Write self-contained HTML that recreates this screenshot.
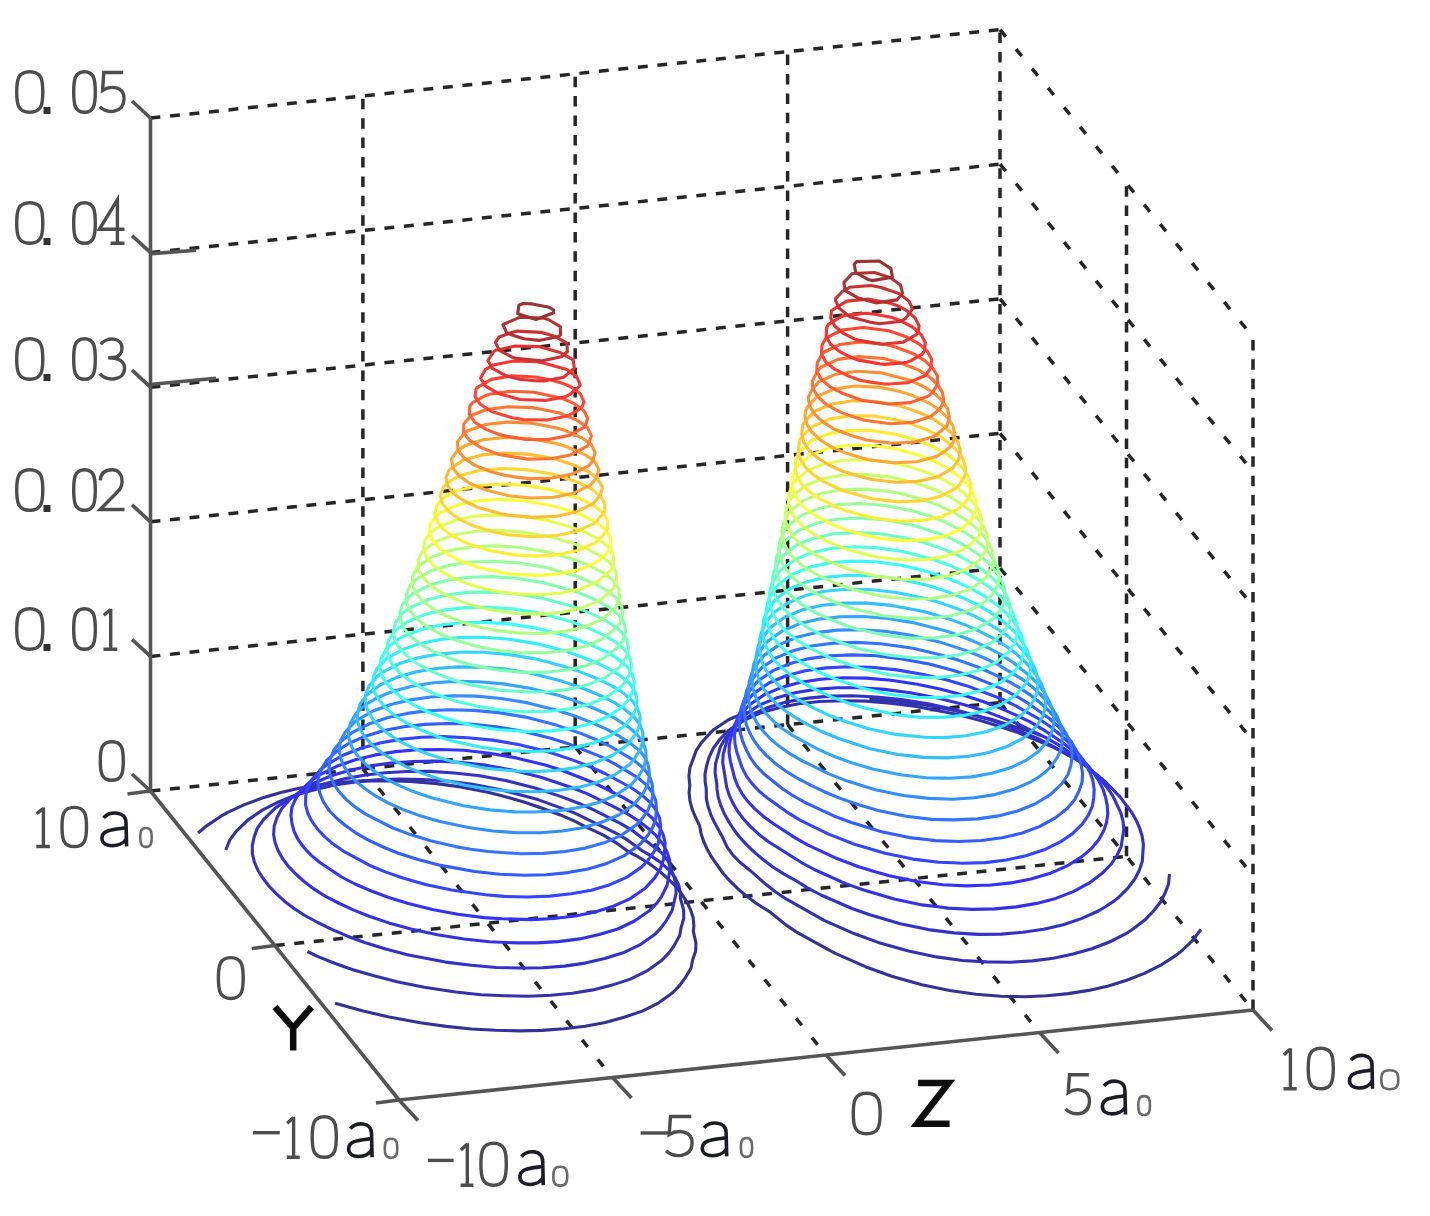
<!DOCTYPE html>
<html><head><meta charset="utf-8"><style>
html,body{margin:0;padding:0;background:#fff;}
body{width:1430px;height:1216px;overflow:hidden;font-family:"Liberation Sans",sans-serif;}
svg{display:block;}
.d{stroke:#262626;stroke-width:3.5;fill:none;}
.a{stroke:#555;stroke-width:3.6;fill:none;stroke-linecap:butt;}
.g{stroke:#4d4d4d;stroke-width:3.4;fill:none;}
.k{stroke:#1c1c28;stroke-width:3.6;fill:none;}
.s{stroke:#6a6a6a;stroke-width:2.6;fill:none;}
.b{stroke:#111;stroke-width:6.5;fill:none;}
.dt{fill:#333;}
.r{fill:none;stroke-width:3.1;stroke-linejoin:round;}
</style></head><body>
<svg width="1430" height="1216" viewBox="0 0 1430 1216">
<defs><filter id="bl" x="0" y="0" width="1430" height="1216" filterUnits="userSpaceOnUse"><feGaussianBlur stdDeviation="0.55"/></filter></defs>
<g filter="url(#bl)">
<g id="grid">
<line class="d" x1="150.5" y1="791" x2="1000" y2="702.6" stroke-dasharray="9.9 9.7"/>
<line class="d" x1="150.5" y1="656.4" x2="1000" y2="568" stroke-dasharray="9.9 9.7"/>
<line class="d" x1="150.5" y1="521.8" x2="1000" y2="433.4" stroke-dasharray="9.9 9.7"/>
<line class="d" x1="150.5" y1="387.2" x2="1000" y2="298.8" stroke-dasharray="9.9 9.7"/>
<line class="d" x1="150.5" y1="252.6" x2="1000" y2="164.2" stroke-dasharray="9.9 9.7"/>
<line class="d" x1="150.5" y1="118" x2="1000" y2="29.6" stroke-dasharray="9.9 9.7"/>
<line class="d" x1="1000" y1="702.6" x2="1253" y2="1010" stroke-dasharray="9.1 16.1"/>
<line class="d" x1="1000" y1="568" x2="1253" y2="875.4" stroke-dasharray="9.1 16.1"/>
<line class="d" x1="1000" y1="433.4" x2="1253" y2="740.8" stroke-dasharray="9.1 16.1"/>
<line class="d" x1="1000" y1="298.8" x2="1253" y2="606.2" stroke-dasharray="9.1 16.1"/>
<line class="d" x1="1000" y1="164.2" x2="1253" y2="471.6" stroke-dasharray="9.1 16.1"/>
<line class="d" x1="1000" y1="29.6" x2="1253" y2="337" stroke-dasharray="9.1 16.1"/>
<line class="d" x1="362.9" y1="768.9" x2="362.9" y2="95.9" stroke-dasharray="10.5 8.9"/>
<line class="d" x1="575.2" y1="746.8" x2="575.2" y2="73.8" stroke-dasharray="10.5 8.9"/>
<line class="d" x1="787.6" y1="724.7" x2="787.6" y2="51.7" stroke-dasharray="10.5 8.9"/>
<line class="d" x1="1000" y1="702.6" x2="1000" y2="29.6" stroke-dasharray="10.5 8.9"/>
<line class="d" x1="1126.5" y1="856.3" x2="1126.5" y2="183.3" stroke-dasharray="10.5 8.9"/>
<line class="d" x1="1253" y1="1010" x2="1253" y2="337" stroke-dasharray="10.5 8.9"/>
<line class="d" x1="362.9" y1="768.9" x2="612.5" y2="1077.5" stroke-dasharray="9.0 15.9"/>
<line class="d" x1="575.2" y1="746.8" x2="826" y2="1055" stroke-dasharray="9.0 16.0"/>
<line class="d" x1="787.6" y1="724.7" x2="1039.5" y2="1032.5" stroke-dasharray="9.0 16.0"/>
<line class="d" x1="274.8" y1="945.5" x2="1126.5" y2="856.3" stroke-dasharray="9.9 9.7"/>
<line class="a" x1="150.5" y1="791" x2="150.5" y2="118"/>
<line class="a" x1="150.5" y1="791" x2="399" y2="1100"/>
<line class="a" x1="399" y1="1100" x2="1253" y2="1010"/>
<line class="a" x1="150.5" y1="791" x2="132" y2="774"/>
<line class="a" x1="150.5" y1="656.4" x2="132" y2="639.4"/>
<line class="a" x1="150.5" y1="521.8" x2="132" y2="504.8"/>
<line class="a" x1="150.5" y1="387.2" x2="132" y2="370.2"/>
<line class="a" x1="150.5" y1="252.6" x2="132" y2="235.6"/>
<line class="a" x1="150.5" y1="118" x2="132" y2="101"/>
<line class="a" x1="150.5" y1="791" x2="127.5" y2="794"/>
<line class="a" x1="274.8" y1="945.5" x2="251.8" y2="948.5"/>
<line class="a" x1="399" y1="1100" x2="376" y2="1103"/>
<line class="a" x1="399" y1="1100" x2="418" y2="1120.5"/>
<line class="a" x1="612.5" y1="1077.5" x2="631.5" y2="1098"/>
<line class="a" x1="826" y1="1055" x2="845" y2="1075.5"/>
<line class="a" x1="1039.5" y1="1032.5" x2="1058.5" y2="1053"/>
<line class="a" x1="1253" y1="1010" x2="1272" y2="1030.5"/>
<line class="a" x1="152" y1="253.6" x2="196" y2="250.2"/>
<line class="a" x1="152" y1="384.2" x2="216" y2="378.2"/>
</g>
<g id="rings">
<path class="r" stroke="#333399" d="M335.1 1003.2 363.2 1011.0 387.9 1016.8 420.2 1022.8 446.3 1026.4 471.5 1029.0 495.7 1030.3 519.4 1030.9 542.1 1030.4 564.0 1028.8 585.1 1026.3 605.2 1022.6 624.1 1017.3 642.3 1011.1 658.7 1002.8 668.5 995.7 673.2 992.2 679.1 986.2 685.0 978.2 691.0 968.2 692.8 959.3 695.7 951.0 695.9 942.6 693.3 931.4 693.9 926.1 693.2 917.8 690.6 909.7 686.7 901.8 681.7 893.9 675.5 886.2 667.9 878.6 659.4 871.2 649.5 863.8 637.9 856.7 628.6 851.8 615.4 842.3 603.5 835.2 585.2 826.7 575.2 821.4 559.7 814.7 542.2 808.2 523.2 801.8 501.7 795.7 487.9 792.2 460.6 786.9 434.7 783.4 410.1 781.5 386.4 780.6 363.6 780.9 341.7 782.3 320.6 784.7 300.3 788.1 280.9 792.6 262.2 798.0 244.5 804.6 227.7 812.3 220.2 816.7 205.5 826.6 198.2 833.0"/>
<path class="r" stroke="#3333b1" d="M307.4 951.5 318.0 956.6 334.6 963.2 352.9 969.7 374.0 975.8 397.1 981.8 424.3 987.3 455.6 992.0 480.9 994.7 505.0 995.8 528.4 996.2 550.9 995.3 572.3 993.2 592.8 989.9 612.0 985.1 630.4 979.1 646.9 970.9 661.6 960.5 668.7 953.2 673.5 946.7 679.7 935.4 681.1 927.6 683.8 918.2 683.6 909.9 680.4 898.3 680.5 893.5 678.8 885.3 674.9 877.3 668.7 869.6 660.2 862.1 649.5 854.9 641.5 850.3 628.0 840.4 616.4 833.3 573.7 812.6 537.9 799.6 499.7 789.4 472.5 784.3 446.8 781.0 422.5 779.5 399.1 779.1 376.7 779.9 355.3 781.9 334.8 785.0 315.4 789.5 296.5 794.7 279.1 801.7 262.7 809.9 247.8 820.1 236.4 831.1 229.7 840.2 225.8 850.0"/>
<path class="r" stroke="#3333c9" d="M522.5 968.0 542.6 967.8 564.4 966.1 585.1 963.1 604.7 958.6 623.1 952.8 639.8 944.9 654.6 934.6 660.6 928.4 666.4 920.6 672.1 910.5 676.1 893.3 675.9 885.0 674.0 876.8 668.0 860.7 661.9 853.0 633.0 830.9 621.3 823.8 593.7 809.9 578.5 803.2 561.2 796.6 535.9 788.3 506.8 780.8 479.7 775.8 454.3 773.0 430.0 771.4 407.1 771.5 385.0 772.8 364.0 775.3 343.8 778.9 324.7 783.8 306.9 790.2 290.2 798.1 275.2 808.1 263.7 819.3 257.3 828.4 254.1 837.1 252.3 845.6 252.4 854.0 254.4 862.2 257.9 870.2 262.8 878.0 268.7 885.8 275.9 893.4 284.1 900.9 293.7 908.3 304.8 915.5 317.8 922.5 331.8 929.4 347.5 936.2 365.4 942.7 385.7 948.9 408.5 954.9 445.5 962.1 471.3 965.3 496.2 967.5 522.5 968.0Z"/>
<path class="r" stroke="#3333e1" d="M517.3 942.9 536.6 942.9 558.6 941.6 579.6 938.9 599.2 934.5 617.8 929.0 634.5 921.0 649.3 910.8 656.8 903.1 661.3 897.0 667.1 885.3 670.3 868.2 669.6 859.9 667.0 851.9 662.8 843.9 656.6 836.2 648.6 828.7 639.0 821.3 627.9 814.1 614.6 807.2 586.4 793.4 569.3 786.8 541.0 777.2 512.0 770.0 485.0 765.1 459.7 762.3 435.6 761.1 412.9 761.5 391.1 763.0 370.4 765.9 350.6 769.9 332.0 775.5 323.5 779.0 314.8 782.7 302.8 789.5 290.0 799.2 281.8 808.5 277.0 817.4 274.2 826.0 273.6 834.5 275.1 842.7 278.2 850.7 282.6 858.6 288.4 866.4 295.7 874.0 304.1 881.5 313.8 888.9 325.1 896.1 338.5 903.0 353.2 909.9 369.8 916.5 388.8 922.9 410.9 928.9 437.4 934.7 464.0 939.0 489.4 941.8 517.3 942.9Z"/>
<path class="r" stroke="#3333f9" d="M502.2 918.8 531.7 919.6 554.0 918.5 575.1 916.0 595.0 912.0 613.4 906.2 630.4 898.6 645.2 888.3 654.9 877.6 660.5 868.7 663.3 860.0 664.6 851.5 665.1 843.1 663.3 834.9 659.4 827.0 653.3 819.2 645.1 811.7 634.9 804.4 622.8 797.3 595.5 783.5 561.7 770.3 545.2 765.1 516.3 757.9 489.4 753.2 464.0 750.3 440.3 749.5 417.4 749.7 395.9 751.6 375.5 754.9 356.2 759.5 338.1 765.7 321.6 773.8 313.0 779.5 307.1 784.4 302.3 789.0 296.0 798.0 292.0 806.8 290.9 815.3 292.0 823.6 294.2 831.7 298.2 839.7 303.8 847.5 311.0 855.1 319.9 862.5 341.6 877.0 355.0 884.0 370.8 890.7 387.9 897.3 408.3 903.5 432.3 909.4 457.9 914.2 483.8 917.6 502.2 918.8Z"/>
<path class="r" stroke="#3345ff" d="M485.6 894.8 503.9 896.4 527.5 897.0 549.9 896.1 571.1 893.8 591.3 890.2 610.0 884.7 627.0 877.1 641.8 866.9 647.3 861.1 653.5 852.7 658.3 843.2 660.7 826.2 659.6 818.0 656.1 810.0 650.1 802.3 641.6 794.8 630.9 787.5 605.0 773.5 590.1 766.7 573.1 760.1 548.7 752.0 519.6 744.7 492.8 740.1 467.8 737.7 443.9 736.6 421.4 737.3 400.0 739.4 379.9 743.0 361.0 748.2 343.5 755.0 327.7 764.1 320.5 769.8 312.3 779.0 307.5 787.9 305.7 796.4 305.6 804.8 307.7 813.0 311.6 820.9 317.2 828.7 324.3 836.4 332.9 843.8 343.3 851.1 369.3 865.2 385.3 871.9 403.7 878.3 425.5 884.4 451.5 890.0 485.6 894.8Z"/>
<path class="r" stroke="#335dff" d="M512.4 874.7 523.8 875.2 546.5 874.7 568.0 872.6 588.1 868.9 606.8 863.4 623.9 855.9 639.7 844.6 647.9 835.3 653.2 826.4 655.9 817.8 656.3 809.4 655.9 801.0 652.7 793.0 646.8 785.3 638.1 777.8 614.3 763.6 600.8 756.6 567.3 743.4 551.7 738.5 522.9 731.3 496.0 726.7 470.8 724.0 447.3 723.5 425.0 724.4 403.8 726.8 383.9 730.6 365.3 736.2 348.3 743.7 337.4 750.7 327.0 760.2 321.4 769.1 318.2 777.8 318.1 786.2 320.2 794.4 323.7 802.4 329.0 810.2 336.2 817.8 345.1 825.2 355.3 832.6 367.4 839.7 381.9 846.5 398.3 853.2 418.0 859.5 440.8 865.4 474.6 871.5 499.9 874.2 512.4 874.7Z"/>
<path class="r" stroke="#3375ff" d="M488.2 851.5 520.5 853.8 543.3 853.4 564.9 851.5 585.3 848.1 604.2 842.8 621.2 835.3 636.1 825.1 642.1 818.6 647.6 810.8 651.9 800.9 652.8 792.4 652.2 784.1 649.4 776.0 643.5 768.3 634.6 760.9 610.9 746.6 596.5 739.8 580.0 733.1 554.3 724.4 525.4 717.1 498.6 712.6 473.8 710.4 450.1 709.7 427.9 710.7 407.0 713.4 387.4 717.7 369.3 723.8 352.9 732.1 340.9 741.4 333.5 750.5 330.2 759.2 329.0 767.7 330.4 776.0 333.8 784.0 339.1 791.8 346.1 799.4 354.9 806.9 365.6 814.1 392.9 828.0 410.4 834.6 430.5 840.8 455.4 846.6 470.7 849.3 488.2 851.5Z"/>
<path class="r" stroke="#338dff" d="M508.3 832.1 517.5 832.7 540.6 832.7 562.4 831.0 582.8 827.7 601.5 822.2 618.8 815.0 633.6 804.8 643.5 792.8 647.9 784.0 649.5 775.4 648.7 767.2 646.1 759.1 640.2 751.3 631.1 743.9 620.2 736.7 607.5 729.7 592.3 722.9 575.5 716.3 556.9 710.2 527.9 702.9 501.3 698.5 476.2 696.1 452.9 695.8 430.8 697.0 410.1 699.9 390.7 704.5 373.0 711.0 357.2 720.1 353.9 722.7 345.3 732.0 340.5 740.8 339.2 749.3 340.5 757.6 343.5 765.6 348.6 773.5 355.6 781.1 364.7 788.5 375.4 795.8 387.9 802.9 403.3 809.6 421.0 816.1 438.8 821.2 469.6 827.8 493.0 831.0 508.3 832.1Z"/>
<path class="r" stroke="#33a5ff" d="M534.6 812.0 559.8 810.6 580.3 807.3 599.4 802.3 616.4 794.8 631.3 784.6 638.8 776.0 643.9 767.1 646.2 758.5 645.8 750.1 642.8 742.1 637.0 734.3 628.3 726.9 617.3 719.7 604.1 712.7 588.4 706.0 571.0 699.4 559.1 695.6 530.1 688.3 503.4 683.9 478.6 681.7 455.3 681.4 433.4 682.8 412.9 686.0 393.8 691.0 387.2 693.5 376.5 698.1 366.7 704.0 361.5 708.1 356.0 713.5 350.8 722.4 348.4 731.1 349.1 739.4 352.1 747.4 357.2 755.3 364.2 762.9 373.0 770.4 383.9 777.6 397.2 784.6 412.6 791.3 431.4 797.7 463.4 805.7 489.9 809.9 514.7 811.9 534.6 812.0Z"/>
<path class="r" stroke="#33bdff" d="M498.5 790.1 512.0 791.3 535.5 791.8 557.6 790.5 578.2 787.4 597.3 782.4 614.5 775.0 629.3 764.8 634.2 759.1 640.2 749.7 642.9 741.5 642.9 733.1 640.1 725.0 634.3 717.3 625.6 709.8 614.4 702.6 600.7 695.7 584.7 689.0 561.2 680.9 532.1 673.5 505.5 669.1 480.8 667.1 457.6 666.9 435.8 668.5 415.5 672.0 396.8 677.3 379.3 685.4 366.7 695.1 359.9 704.2 357.5 712.8 357.5 721.2 360.1 729.3 364.9 737.1 371.9 744.8 381.0 752.2 392.3 759.4 405.5 766.4 421.5 773.1 441.0 779.4 465.2 785.2 487.0 788.9 498.5 790.1Z"/>
<path class="r" stroke="#33d5ff" d="M515.1 771.0 533.2 771.6 555.5 770.5 576.2 767.6 595.2 762.5 612.5 755.3 627.2 745.0 636.2 733.2 637.9 729.6 639.7 724.5 640.1 716.1 637.5 708.0 631.8 700.2 623.0 692.8 611.5 685.6 597.2 678.8 581.0 672.1 561.9 665.7 534.1 658.6 507.6 654.4 482.8 652.2 459.8 652.3 438.2 654.1 418.0 657.7 399.6 663.5 383.3 671.8 376.8 676.7 369.0 685.9 365.5 694.6 365.4 703.0 368.0 711.1 372.7 719.0 379.6 726.6 388.7 734.1 399.7 741.3 413.4 748.2 430.1 754.8 450.3 761.1 484.1 768.1 515.1 771.0Z"/>
<path class="r" stroke="#33edff" d="M539.4 751.2 553.4 750.6 574.1 747.7 593.4 743.0 610.6 735.6 625.3 725.2 632.3 716.3 636.4 707.5 637.2 699.1 634.8 690.9 629.2 683.2 620.3 675.7 608.5 668.6 598.6 663.8 577.3 655.2 565.1 651.0 536.0 643.6 509.4 639.3 484.7 637.3 461.7 637.4 440.3 639.4 420.4 643.4 402.4 649.6 386.6 658.6 377.6 667.7 375.0 672.9 373.5 676.5 372.7 684.9 374.9 693.1 379.6 700.9 386.4 708.6 395.4 716.0 406.9 723.2 421.2 730.1 438.0 736.7 453.3 741.2 481.4 747.3 507.1 750.6 531.0 751.5 539.4 751.2Z"/>
<path class="r" stroke="#39fff9" d="M499.2 729.7 528.9 731.7 551.4 730.9 572.4 728.2 591.7 723.5 608.9 716.2 623.5 705.7 628.5 699.4 633.1 690.5 634.3 682.0 632.2 673.9 626.6 666.1 617.6 658.7 605.6 651.6 590.9 644.8 573.6 638.2 566.9 635.9 537.7 628.4 511.1 624.1 486.7 622.4 463.7 622.5 442.4 624.7 423.7 628.8 405.0 635.5 397.4 639.9 390.0 645.5 386.1 649.5 381.1 658.4 379.9 666.8 381.7 675.0 386.1 682.9 392.9 690.6 402.2 698.0 414.0 705.1 428.2 712.0 446.0 718.5 468.3 724.6 478.7 726.7 499.2 729.7Z"/>
<path class="r" stroke="#51ffe1" d="M512.5 711.0 526.9 711.8 549.6 711.3 570.7 708.7 589.9 704.0 607.2 696.8 621.7 686.2 624.7 682.5 629.8 673.6 631.5 665.0 629.6 656.9 624.0 649.1 615.0 641.7 603.2 634.8 587.7 627.8 570.0 621.3 539.4 613.1 512.9 608.9 488.3 607.1 465.6 607.6 444.5 609.9 425.0 614.4 407.8 621.5 394.5 631.3 388.4 640.3 386.8 648.8 388.4 657.0 392.6 664.9 399.4 672.6 408.9 680.0 420.4 687.1 435.1 694.0 453.5 700.4 477.2 706.3 502.5 710.2 512.5 711.0Z"/>
<path class="r" stroke="#69ffc9" d="M528.1 692.0 547.8 691.7 568.9 689.3 588.3 684.6 605.6 677.4 620.0 666.7 626.5 656.6 628.6 648.0 626.9 639.8 621.5 632.0 612.3 624.6 599.9 617.6 584.6 610.8 570.5 605.7 541.1 597.9 514.6 593.7 490.0 591.9 467.4 592.4 446.4 595.0 427.3 599.8 410.4 607.5 402.9 613.1 395.6 622.2 393.3 630.8 394.6 639.0 398.8 647.0 405.5 654.6 414.7 662.0 426.7 669.2 442.8 676.2 461.0 682.3 473.3 685.4 500.3 690.2 528.1 692.0Z"/>
<path class="r" stroke="#81ffb1" d="M495.5 669.7 523.0 672.4 546.0 672.2 567.2 669.9 586.7 665.4 603.9 658.1 618.2 647.2 623.2 639.6 625.7 631.0 624.3 622.8 618.9 615.0 609.7 607.6 597.0 600.5 581.4 593.8 572.2 590.4 542.6 582.5 516.1 578.2 491.7 576.6 469.1 577.2 448.3 580.0 429.5 585.3 413.1 593.5 411.3 594.9 402.8 604.1 399.8 612.8 400.6 621.1 404.5 629.0 411.2 636.7 420.6 644.1 432.9 651.2 448.5 657.9 468.4 664.2 495.5 669.7Z"/>
<path class="r" stroke="#99ff99" d="M506.0 651.3 521.1 652.7 544.3 652.8 565.7 650.7 585.2 646.2 602.4 638.9 616.5 627.8 619.9 622.6 622.7 614.0 621.6 605.7 616.3 597.9 607.0 590.5 594.1 583.5 573.9 575.2 544.2 567.1 517.6 562.8 493.3 561.3 470.8 562.0 450.2 565.1 431.6 570.6 420.2 576.6 415.9 579.7 409.8 586.1 406.2 594.8 406.6 603.1 410.3 611.1 416.9 618.8 426.5 626.2 439.0 633.2 454.9 639.9 475.8 646.1 495.9 650.1 506.0 651.3Z"/>
<path class="r" stroke="#b1ff81" d="M516.7 632.9 542.7 633.5 564.1 631.4 583.7 627.0 600.9 619.7 607.3 615.0 614.8 608.4 616.6 605.6 619.7 597.0 618.8 588.7 613.6 580.9 604.3 573.5 591.3 566.5 575.6 560.0 545.7 551.6 519.1 547.3 494.8 545.8 472.5 546.8 452.1 550.0 433.8 556.0 429.4 558.3 418.8 566.0 416.8 568.0 412.3 576.8 412.5 585.2 416.0 593.2 422.6 600.9 432.1 608.2 444.7 615.3 464.9 623.1 483.3 628.0 493.7 630.1 516.7 632.9Z"/>
<path class="r" stroke="#c9ff69" d="M532.1 613.9 541.0 614.1 562.6 612.2 582.2 607.8 599.4 600.6 613.1 589.0 616.8 579.9 616.0 571.7 610.9 563.8 601.5 556.4 588.4 549.5 571.3 542.9 549.6 536.8 520.6 531.9 496.4 530.4 474.1 531.5 453.9 535.0 436.1 541.4 424.1 549.9 422.0 552.6 418.5 558.9 418.0 567.3 421.4 575.3 427.9 583.0 437.5 590.4 450.5 597.4 467.7 603.9 490.8 609.9 517.4 613.5 532.1 613.9Z"/>
<path class="r" stroke="#e1ff51" d="M499.2 591.7 515.6 593.9 539.4 594.7 561.1 593.0 580.7 588.7 597.9 581.4 609.3 571.8 611.3 569.3 613.8 562.9 613.2 554.6 608.2 546.8 598.8 539.4 585.6 532.4 567.6 525.9 548.7 520.7 522.1 516.3 497.9 514.9 475.8 516.1 455.8 519.9 438.4 527.0 431.5 531.8 425.4 539.5 424.6 540.9 423.6 549.4 426.7 557.4 433.2 565.1 442.9 572.5 456.2 579.4 474.0 585.9 489.2 589.8 499.2 591.7Z"/>
<path class="r" stroke="#f9ff39" d="M507.7 573.5 513.7 574.3 537.8 575.4 559.6 573.8 579.3 569.6 596.4 562.2 605.1 554.9 609.3 549.7 610.8 545.9 610.5 537.6 605.5 529.7 596.1 522.4 581.0 514.7 563.9 509.0 550.2 505.2 523.5 500.7 499.4 499.5 477.4 500.8 457.6 504.9 440.7 512.5 438.9 513.7 430.8 522.9 429.2 531.5 432.0 539.5 438.4 547.3 448.3 554.6 461.9 561.5 480.4 568.0 507.7 573.5Z"/>
<path class="r" stroke="#ffed33" d="M517.6 555.1 536.1 556.1 558.1 554.7 577.9 550.5 594.9 543.0 600.9 538.0 607.8 528.9 607.7 520.6 602.8 512.7 593.4 505.3 579.5 498.4 551.7 489.7 524.9 485.2 500.9 484.0 479.0 485.5 459.5 489.9 447.4 495.5 443.2 498.3 437.1 505.0 434.8 513.6 437.3 521.7 443.6 529.4 453.6 536.7 467.6 543.6 486.9 549.9 511.8 554.6 517.6 555.1Z"/>
<path class="r" stroke="#ffd533" d="M529.6 536.5 534.5 536.8 556.6 535.5 576.4 531.4 593.4 523.9 596.7 521.1 604.3 512.0 605.0 509.6 604.9 503.5 600.1 495.7 590.7 488.3 575.9 481.5 553.2 474.2 526.3 469.6 502.3 468.5 480.6 470.2 461.4 475.0 456.5 477.2 445.9 484.3 443.4 487.0 440.4 495.7 442.5 503.8 448.7 511.5 458.8 518.8 473.2 525.7 493.9 531.9 509.9 534.9 529.6 536.5Z"/>
<path class="r" stroke="#ffbd33" d="M501.0 513.8 507.9 515.1 532.9 517.4 555.2 516.4 575.0 512.3 592.5 504.2 600.4 495.0 602.1 488.8 602.1 486.5 597.4 478.6 588.0 471.3 572.4 464.5 554.7 458.8 527.8 454.1 503.8 453.0 482.3 454.9 467.6 458.7 463.4 460.1 450.0 469.0 448.8 470.6 446.0 477.7 447.7 485.9 453.8 493.7 464.1 501.0 478.9 507.8 501.0 513.8Z"/>
<path class="r" stroke="#ffa533" d="M508.5 495.7 531.2 498.0 553.6 497.2 573.5 493.2 590.2 485.3 596.5 478.1 598.9 469.5 594.7 461.6 584.4 454.3 568.8 447.6 556.4 443.6 529.3 438.6 505.3 437.5 483.0 439.8 465.5 445.4 457.3 450.9 452.4 457.7 451.5 459.8 452.9 468.1 458.9 475.8 469.3 483.1 485.0 489.8 508.5 495.7Z"/>
<path class="r" stroke="#ff8d33" d="M517.9 477.4 529.5 478.6 552.1 478.0 572.1 474.1 588.5 465.9 592.5 461.2 595.2 452.6 591.3 444.6 580.9 437.3 565.3 430.6 558.1 428.3 530.7 423.1 506.9 422.1 485.7 424.5 467.7 430.7 464.6 432.8 457.5 441.9 458.1 450.2 464.1 457.9 474.7 465.2 491.1 471.8 503.6 475.1 517.9 477.4Z"/>
<path class="r" stroke="#ff7533" d="M527.3 459.1 550.6 458.8 570.6 454.9 586.8 446.4 588.6 444.3 591.4 435.6 587.6 427.7 577.4 420.4 559.7 413.0 535.2 408.1 532.2 407.6 508.4 406.7 487.5 409.3 473.3 414.5 470.1 416.4 463.8 423.9 463.6 432.3 469.4 440.1 480.3 447.3 497.2 453.9 501.3 454.9 527.3 459.1Z"/>
<path class="r" stroke="#ff5d33" d="M548.5 439.6 568.9 435.6 584.9 426.8 587.7 418.7 584.0 410.7 573.8 403.4 561.8 398.3 533.8 392.2 510.0 391.3 489.3 394.2 484.3 396.1 472.9 402.5 470.0 405.9 469.3 414.4 474.9 422.2 486.0 429.4 498.5 434.2 504.3 435.8 525.8 439.4 548.5 439.6Z"/>
<path class="r" stroke="#ff4533" d="M512.2 417.7 523.8 419.6 547.3 420.0 567.2 416.1 577.2 410.9 582.4 406.3 584.0 401.8 580.4 393.8 570.3 386.5 564.2 383.8 550.9 380.1 535.5 377.0 511.6 375.9 491.3 379.4 476.6 387.9 476.0 389.1 475.0 396.5 480.4 404.3 491.6 411.5 512.2 417.7Z"/>
<path class="r" stroke="#f93333" d="M520.0 399.5 545.5 400.5 565.5 396.7 570.1 394.3 579.9 385.9 580.2 384.9 576.8 376.8 566.8 369.5 545.1 363.4 537.3 361.8 513.5 361.0 493.5 364.9 485.2 369.7 480.8 377.7 480.7 378.5 485.9 386.4 498.2 393.4 520.0 399.5Z"/>
<path class="r" stroke="#e13333" d="M534.6 380.7 543.7 380.9 563.7 377.2 574.3 368.2 573.2 359.9 560.7 352.8 539.0 346.6 515.4 346.0 495.8 350.3 493.9 351.5 487.9 360.5 492.4 368.4 505.3 375.4 519.1 379.2 534.6 380.7Z"/>
<path class="r" stroke="#c93333" d="M512.5 357.3 516.3 358.4 541.5 360.9 561.3 356.8 567.4 351.5 566.9 343.2 554.5 336.2 541.5 332.4 517.3 331.1 512.4 332.2 499.1 337.0 495.4 342.4 499.4 350.3 512.5 357.3Z"/>
<path class="r" stroke="#b13333" d="M523.7 338.8 538.9 340.4 558.8 336.4 560.5 334.9 560.3 326.6 548.3 319.5 544.1 318.3 520.1 317.1 502.9 324.5 506.4 332.2 511.3 334.8 523.7 338.8Z"/>
<path class="r" stroke="#993333" d="M517.7 313.7 536.0 319.5 553.7 312.8 553.7 310.0 549.2 307.2 532.2 303.9 523.1 303.5 518.9 305.2 517.7 313.7Z"/>
<path class="r" stroke="#333399" d="M1041.5 735.7 1032.0 732.1 991.9 719.6 950.9 709.7 923.7 704.8 897.8 701.2 869.4 698.9M747.5 711.6 728.5 719.7 713.6 729.7 711.1 732.1 701.3 742.8 696.3 750.4 689.9 767.7 688.9 776.2 689.8 785.3 689.1 792.9 690.0 801.2 692.2 809.3 695.5 817.3 699.6 825.6 701.0 833.4 703.7 841.5 707.3 849.5 711.8 857.4 722.8 873.0 729.6 880.6 737.3 888.2 746.0 895.6 755.7 903.0 770.0 912.0 785.9 924.9 796.6 932.1 834.7 953.2 865.5 966.7 891.7 976.2 921.8 984.7 949.7 990.5 976.0 994.3 1000.7 996.2 1024.3 996.7 1046.7 995.8 1068.2 993.6 1088.7 990.4 1108.3 986.0 1126.7 980.2 1144.4 973.4 1160.8 965.2 1175.9 955.4 1182.7 950.0 1192.4 940.7 1200.9 929.5"/>
<path class="r" stroke="#3333b1" d="M1074.0 758.0 1051.1 746.2 1018.7 732.9 999.8 726.5 979.5 720.3 956.5 714.3 916.2 706.4 890.4 703.1 865.7 701.1 842.4 700.7 819.9 701.5 798.7 703.7 778.9 707.7 760.1 713.0 743.4 720.6 728.5 730.6 720.1 739.0 713.5 748.0 709.3 756.8 706.7 765.4 705.0 774.0 705.2 782.3 706.2 788.2 706.4 798.9 708.2 807.1 711.0 815.1 714.7 823.1 721.7 835.5 727.0 846.9 732.6 854.7 739.9 862.3 750.4 870.7 766.1 884.6 775.7 892.0 786.5 899.2 824.1 920.3 854.6 933.8 878.2 942.4 908.5 951.1 936.4 956.9 962.5 960.5 986.8 961.9 1010.2 962.2 1032.3 960.9 1053.3 958.2 1073.1 954.0 1091.9 948.7 1109.5 942.0 1125.9 933.7 1132.0 929.8 1144.8 920.1 1153.7 910.8 1160.8 901.7 1165.1 892.9 1168.5 884.2 1169.5 874.0"/>
<path class="r" stroke="#3333c9" d="M1022.8 932.3 1043.7 929.3 1063.2 924.8 1081.3 918.6 1098.3 911.0 1105.0 907.0 1113.5 901.4 1118.8 897.2 1128.2 887.8 1135.0 878.8 1139.4 870.0 1142.3 861.3 1143.4 844.5 1142.2 836.3 1139.7 828.2 1136.1 820.2 1131.6 812.3 1120.0 796.9 1105.4 781.7 1087.2 766.9 1076.5 759.7 1051.7 745.6 1038.1 738.7 1006.0 725.3 987.0 718.9 956.4 710.1 928.2 703.8 901.6 699.5 876.5 697.0 852.4 695.7 829.7 696.1 808.2 698.1 788.0 701.6 769.4 707.0 752.3 714.3 737.4 724.4 733.1 728.7 725.5 738.0 720.4 746.8 715.5 764.0 715.1 772.4 716.8 783.9 717.0 788.9 718.2 797.1 720.7 805.2 724.1 813.2 728.4 821.1 733.4 829.0 739.3 836.7 746.2 844.4 754.0 851.9 762.7 859.3 772.5 866.7 783.7 873.9 795.4 880.3 807.8 888.1 821.0 895.0 851.9 908.5 869.8 914.8 900.3 923.8 928.2 929.6 954.0 932.9 978.4 934.4 1001.3 934.1 1022.8 932.3Z"/>
<path class="r" stroke="#3333e1" d="M940.3 907.0 947.8 908.1 972.1 909.4 994.8 908.9 1016.3 906.9 1036.7 903.4 1055.7 898.4 1073.3 891.6 1089.4 882.9 1102.2 873.3 1111.3 864.0 1117.2 855.0 1121.2 846.3 1123.8 829.3 1123.0 821.0 1120.8 812.9 1113.4 797.0 1108.4 789.2 1102.3 781.5 1095.2 773.9 1078.1 758.9 1068.4 751.6 1057.6 744.4 1045.3 737.3 1017.4 723.6 983.1 710.4 962.6 704.2 937.6 698.0 910.3 692.8 884.4 689.4 860.0 687.8 837.0 687.8 815.2 689.4 794.9 692.7 776.2 698.1 759.0 705.3 744.2 715.4 740.6 719.0 732.3 729.1 727.9 737.1 723.2 754.3 722.7 762.7 726.7 787.3 729.3 795.4 733.0 803.4 737.7 811.3 743.5 819.0 750.5 826.6 758.7 834.2 768.1 841.5 802.2 863.0 815.3 870.0 845.6 883.6 863.6 890.0 894.2 899.1 922.1 904.9 940.3 907.0Z"/>
<path class="r" stroke="#3333f9" d="M982.9 885.3 989.6 885.2 1010.9 882.9 1030.9 879.1 1049.5 873.6 1066.6 866.2 1081.9 856.6 1091.0 848.9 1098.7 839.7 1103.6 830.9 1106.6 822.2 1107.8 813.7 1107.2 805.4 1105.6 797.3 1103.0 789.2 1099.1 781.2 1094.1 773.4 1088.1 765.7 1081.0 758.1 1072.8 750.6 1063.5 743.2 1052.9 736.0 1041.9 728.8 1029.6 721.7 1015.4 714.9 1000.2 708.1 983.0 701.5 963.6 695.2 941.1 689.2 917.3 684.2 891.0 680.2 866.3 678.1 842.9 677.8 821.0 679.2 800.4 682.3 781.6 687.4 764.4 694.6 749.6 704.7 744.8 709.7 737.9 718.7 733.2 727.6 729.3 744.7 729.1 753.1 730.4 761.3 734.5 777.6 737.6 785.7 742.0 793.6 747.7 801.3 754.8 808.9 763.4 816.4 773.5 823.7 795.6 838.1 808.1 845.2 837.6 858.8 858.7 866.7 874.3 871.6 889.3 875.8 917.1 881.5 942.9 884.8 966.9 885.9 982.9 885.3Z"/>
<path class="r" stroke="#3345ff" d="M953.1 862.8 962.6 863.3 985.2 862.6 1006.3 860.0 1025.9 855.7 1044.2 849.8 1060.7 841.7 1072.5 833.6 1082.3 824.2 1088.4 815.2 1092.3 806.4 1093.7 797.9 1094.2 789.5 1093.0 781.3 1090.4 773.2 1086.4 765.3 1081.4 757.5 1075.3 749.8 1068.3 742.2 1060.2 734.7 1051.1 727.3 1040.7 720.0 1015.8 705.9 1001.6 699.0 967.2 685.9 946.1 679.8 923.6 674.5 896.7 669.9 871.5 667.3 848.0 666.7 825.9 667.9 805.2 670.8 786.1 675.7 769.0 683.0 754.2 693.1 747.3 700.5 742.5 707.0 737.4 718.3 734.5 735.3 735.0 743.6 736.7 751.8 742.2 767.9 746.3 775.9 752.0 783.6 759.2 791.2 768.1 798.6 788.7 813.2 800.5 820.3 828.6 834.1 854.5 844.3 885.0 853.3 912.8 859.1 938.7 862.3 953.1 862.8Z"/>
<path class="r" stroke="#335dff" d="M928.8 839.8 935.0 840.6 958.9 841.5 981.2 840.5 1002.1 837.7 1021.6 833.2 1039.4 826.6 1055.4 817.9 1067.1 808.5 1074.9 799.4 1079.2 790.6 1082.1 781.9 1082.6 773.5 1081.2 765.3 1079.1 757.2 1075.7 749.2 1070.9 741.3 1064.9 733.6 1057.8 726.0 1049.4 718.5 1029.1 704.0 1017.5 696.8 1004.1 689.9 988.8 683.1 972.1 676.5 952.6 670.2 929.2 664.1 901.8 658.9 876.2 655.8 852.4 654.9 830.0 655.7 809.3 658.6 790.2 663.4 773.0 670.6 758.2 680.8 756.8 682.3 749.0 691.5 746.6 694.8 743.9 700.3 741.1 709.0 739.9 717.5 739.5 725.9 740.6 734.1 743.0 742.2 746.5 750.2 750.6 758.1 756.2 765.9 763.5 773.5 781.8 788.3 792.7 795.5 805.3 802.6 834.4 816.2 850.7 822.3 881.5 831.8 909.4 837.6 928.8 839.8Z"/>
<path class="r" stroke="#3375ff" d="M953.4 819.9 977.7 818.9 998.4 815.9 1017.5 811.0 1035.0 804.0 1050.4 794.7 1062.0 783.5 1068.0 774.5 1070.8 765.8 1072.1 757.3 1071.6 749.0 1069.4 740.9 1065.8 733.0 1060.9 725.1 1054.9 717.4 1047.8 709.8 1039.6 702.3 1030.2 694.9 1019.4 687.7 1006.9 680.7 993.1 673.8 977.7 667.0 959.7 660.6 939.1 654.4 914.0 648.6 906.4 647.2 880.6 643.8 856.3 642.4 833.8 643.1 812.9 645.7 793.7 650.5 776.5 657.6 761.7 667.8 756.7 673.4 750.4 682.2 746.5 691.2 744.7 699.7 744.0 708.2 744.5 716.5 746.4 724.6 749.6 732.6 754.0 740.5 759.7 748.3 766.8 755.9 775.4 763.4 785.3 770.7 796.8 777.9 810.1 784.8 824.2 791.7 840.2 798.4 858.7 804.8 878.2 810.4 906.0 816.2 931.7 819.4 953.4 819.9Z"/>
<path class="r" stroke="#338dff" d="M922.2 797.6 928.7 798.4 952.5 799.2 974.5 797.8 995.0 794.6 1013.8 789.3 1030.9 781.8 1038.7 777.0 1045.7 771.7 1050.2 767.4 1056.8 758.4 1061.0 749.6 1062.4 741.1 1062.0 732.8 1060.4 724.6 1057.2 716.6 1052.6 708.7 1046.6 701.0 1039.5 693.4 1031.0 685.9 1021.2 678.6 997.5 664.4 983.3 657.5 966.9 650.9 939.3 641.9 910.7 635.2 897.5 633.1 884.4 631.2 860.0 629.7 837.3 630.1 816.3 632.6 797.0 637.2 779.8 644.4 765.0 654.6 756.7 664.5 753.7 669.0 751.8 673.4 749.2 682.0 748.4 698.8 749.9 707.0 752.8 715.0 757.0 723.0 762.7 730.7 769.9 738.3 778.6 745.8 788.9 753.1 800.8 760.2 828.9 773.9 844.2 779.9 875.3 789.7 903.2 795.5 922.2 797.6Z"/>
<path class="r" stroke="#33a5ff" d="M943.3 778.1 949.6 778.3 971.5 776.9 991.8 773.3 1010.4 767.8 1027.0 759.8 1038.5 751.4 1046.8 742.2 1051.2 733.4 1053.7 724.8 1053.7 716.4 1051.9 708.2 1048.6 700.2 1044.2 692.3 1038.4 684.6 1031.1 677.0 1012.8 662.2 1001.7 655.0 988.8 648.1 973.8 641.3 957.1 634.7 944.1 630.4 912.9 622.6 888.1 618.5 863.4 616.5 840.4 616.7 819.3 619.0 799.9 623.6 782.6 630.7 768.0 640.9 763.1 646.6 757.0 655.8 753.7 664.3 752.3 672.8 752.3 681.1 753.3 689.4 755.9 697.5 760.0 705.4 765.6 713.2 772.9 720.8 781.8 728.2 792.4 735.4 818.2 749.4 833.6 756.2 851.5 762.7 872.5 768.9 900.4 774.8 926.0 777.8 943.3 778.1Z"/>
<path class="r" stroke="#33bdff" d="M910.7 755.9 923.5 757.4 947.0 757.9 968.8 756.2 988.9 752.5 1007.1 746.5 1023.3 738.1 1027.0 735.4 1036.7 726.0 1042.5 717.0 1044.9 708.4 1045.7 700.0 1044.4 691.8 1041.4 683.7 1036.9 675.9 1031.0 668.1 1023.8 660.5 1015.3 653.1 1005.3 645.8 993.7 638.6 980.3 631.7 965.3 624.9 947.4 618.4 926.4 612.3 918.7 610.4 891.5 605.4 866.6 603.1 843.5 603.1 822.2 605.3 802.7 609.7 785.4 616.8 770.8 627.2 762.5 637.7 759.9 642.1 758.2 646.5 756.2 655.1 755.9 663.5 756.8 671.8 759.1 679.9 763.0 687.8 768.6 695.6 775.9 703.2 785.0 710.6 795.9 717.8 808.3 724.9 822.2 731.8 838.6 738.5 870.0 748.7 897.9 754.5 910.7 755.9Z"/>
<path class="r" stroke="#33d5ff" d="M924.9 737.2 944.5 737.6 966.2 735.8 986.0 731.8 1004.0 725.5 1019.7 716.4 1027.2 709.7 1033.8 700.7 1037.2 692.0 1037.9 683.6 1037.0 675.3 1034.3 667.2 1030.0 659.3 1024.2 651.6 1016.9 644.0 1008.2 636.6 997.9 629.3 986.0 622.2 972.6 615.2 956.7 608.5 938.2 602.1 922.5 597.8 894.8 592.2 869.5 589.5 846.2 589.2 824.8 591.2 805.3 595.6 788.0 602.7 773.4 613.1 767.9 619.9 762.8 628.4 760.0 637.4 759.3 645.9 760.2 654.1 762.2 662.3 766.0 670.3 771.5 678.0 778.9 685.6 788.2 693.0 799.3 700.2 811.8 707.2 826.2 714.1 843.1 720.7 867.6 728.4 895.6 734.4 924.9 737.2Z"/>
<path class="r" stroke="#33edff" d="M896.1 714.6 918.8 717.2 942.1 717.4 963.6 715.4 983.3 711.3 1001.0 704.5 1016.2 694.8 1025.5 684.3 1029.6 675.5 1030.9 667.0 1030.0 658.8 1027.2 650.7 1023.1 642.8 1017.4 635.0 1010.1 627.5 1001.1 620.0 991.0 612.7 979.1 605.6 965.0 598.8 948.6 592.1 929.1 585.8 898.0 578.8 872.4 575.8 866.6 575.6 848.9 575.2 827.3 577.1 807.8 581.4 790.4 588.4 775.9 598.9 767.3 611.1 765.5 614.5 763.9 619.8 762.7 628.3 763.3 636.6 765.4 644.7 769.0 652.7 774.5 660.5 781.9 668.0 791.4 675.4 802.4 682.6 815.3 689.6 833.5 697.8 847.9 702.9 865.2 708.3 896.1 714.6Z"/>
<path class="r" stroke="#39fff9" d="M907.1 696.2 916.6 697.3 939.9 697.5 961.3 695.3 980.7 690.8 998.1 683.7 1007.9 677.2 1012.6 673.2 1017.3 667.9 1022.0 659.1 1024.0 650.5 1023.6 642.2 1021.1 634.1 1016.8 626.2 1011.1 618.4 1003.8 610.9 995.0 603.4 984.6 596.2 972.2 589.1 957.7 582.3 940.7 575.7 919.9 569.5 901.1 565.3 875.1 561.8 851.5 561.1 829.8 562.8 810.1 567.0 792.8 574.1 778.4 584.6 771.9 593.3 768.2 600.5 766.1 610.7 766.4 619.0 768.4 627.1 772.0 635.1 777.4 642.9 784.9 650.5 794.3 657.8 805.6 665.0 818.8 672.0 834.3 678.7 863.1 688.4 891.2 694.5 907.1 696.2Z"/>
<path class="r" stroke="#51ffe1" d="M921.5 677.4 937.7 677.6 959.0 675.2 978.2 670.5 995.2 662.9 998.1 661.0 1009.2 651.5 1014.9 642.5 1017.1 634.0 1017.1 625.6 1015.0 617.5 1011.0 609.5 1005.3 601.8 997.9 594.2 989.0 586.8 978.2 579.6 965.4 572.6 950.7 565.7 933.6 559.5 904.1 551.8 877.8 547.9 853.9 546.8 832.0 548.3 812.3 552.4 795.0 559.5 780.6 570.2 776.6 575.6 771.7 584.5 769.5 593.0 769.5 601.4 771.3 609.6 774.8 617.6 780.3 625.3 787.7 632.9 797.2 640.3 808.7 647.4 828.5 657.2 838.5 661.0 860.9 668.5 889.1 674.7 914.5 677.4 921.5 677.4Z"/>
<path class="r" stroke="#69ffc9" d="M889.4 655.2 912.5 657.8 935.6 657.7 956.7 655.2 975.8 650.2 992.3 642.2 1001.0 635.1 1007.8 626.0 1010.8 617.4 1010.8 609.0 1008.9 600.9 1005.1 592.9 999.4 585.1 992.1 577.6 982.9 570.2 971.9 563.0 959.1 556.0 943.7 549.2 925.0 542.8 907.1 538.2 880.4 533.8 856.3 532.5 834.3 533.8 814.5 537.9 797.1 544.8 782.9 555.7 775.8 566.8 773.5 572.5 772.9 575.4 772.6 583.8 774.1 592.0 777.6 600.0 783.0 607.8 790.5 615.4 800.1 622.7 811.8 629.9 826.1 636.9 842.6 643.3 858.8 648.7 889.4 655.2Z"/>
<path class="r" stroke="#81ffb1" d="M899.4 636.9 910.5 638.1 933.6 638.0 954.6 635.3 973.3 630.0 989.4 621.4 992.8 618.7 1000.8 609.5 1001.6 608.0 1004.4 600.8 1005.0 592.4 1003.1 584.2 999.2 576.3 993.6 568.5 986.2 560.9 977.1 553.5 966.1 546.3 952.9 539.4 941.3 534.5 917.1 526.4 910.1 524.6 883.0 519.6 858.6 518.0 836.5 519.2 816.6 523.1 799.3 530.2 785.1 541.1 779.9 549.1 776.4 557.8 775.7 566.2 777.0 574.5 780.4 582.5 785.7 590.3 793.3 597.8 803.0 605.2 814.9 612.3 829.4 619.1 846.8 625.7 856.8 629.0 885.2 635.3 899.4 636.9Z"/>
<path class="r" stroke="#99ff99" d="M910.4 618.4 931.6 618.3 952.4 615.5 960.0 613.2 970.9 609.8 984.2 602.3 986.6 600.6 993.7 593.0 998.1 584.2 999.2 575.7 997.6 567.5 993.9 559.6 988.3 551.8 980.9 544.2 971.7 536.8 960.4 529.7 946.6 522.8 930.0 516.1 913.1 511.0 885.5 505.5 860.8 503.5 838.5 504.5 818.6 508.4 801.3 515.4 787.2 526.5 784.1 531.4 780.1 540.2 778.7 548.7 779.9 556.9 783.1 564.9 788.5 572.7 796.1 580.3 805.9 587.6 818.1 594.7 833.2 601.5 850.9 608.0 883.3 615.8 910.4 618.4Z"/>
<path class="r" stroke="#b1ff81" d="M880.4 596.0 906.8 599.0 929.7 598.7 950.3 595.6 968.5 589.6 974.9 586.1 983.6 579.8 986.7 576.5 991.8 567.6 993.3 559.1 992.2 550.8 988.7 542.9 983.1 535.1 975.7 527.5 966.2 520.1 954.6 513.0 940.5 506.1 923.1 499.6 900.3 493.6 888.0 491.3 864.0 489.1 840.6 489.8 820.6 493.6 803.2 500.6 789.4 511.9 783.8 522.5 781.8 531.1 782.8 539.3 785.9 547.4 791.2 555.2 798.8 562.7 808.8 570.0 818.2 575.4 836.9 583.8 852.8 589.5 880.4 596.0Z"/>
<path class="r" stroke="#c9ff69" d="M889.3 577.8 905.0 579.5 927.8 579.1 948.2 575.8 966.1 569.4 979.5 560.0 985.6 551.0 987.6 542.4 986.7 534.2 983.4 526.1 977.9 518.4 970.4 510.8 960.8 503.5 948.9 496.3 934.4 489.5 919.3 484.0 890.5 477.1 865.2 474.4 842.7 475.0 822.5 478.7 805.2 485.7 791.5 497.2 787.6 504.9 785.3 513.5 785.7 521.8 788.7 529.8 793.9 537.6 801.6 545.2 815.1 554.5 824.8 559.5 840.7 566.2 850.8 569.8 860.9 572.4 879.5 576.7 889.3 577.8Z"/>
<path class="r" stroke="#e1ff51" d="M898.8 559.5 903.1 560.0 925.9 559.6 946.2 556.1 963.7 549.2 971.7 543.5 977.3 537.6 979.4 534.4 982.0 525.7 981.3 517.5 978.1 509.4 972.8 501.7 965.2 494.1 955.5 486.8 943.4 479.7 928.3 472.9 908.8 466.6 893.0 462.9 867.4 459.8 844.6 460.2 824.5 463.8 807.2 470.8 793.7 482.6 791.3 487.2 788.7 495.8 788.6 504.2 791.4 512.3 796.7 520.1 804.4 527.6 814.8 534.9 828.3 541.9 848.8 550.1 877.7 557.2 898.8 559.5Z"/>
<path class="r" stroke="#f9ff39" d="M919.6 540.1 924.0 540.0 944.1 536.3 961.3 529.0 963.9 527.1 973.1 517.8 973.9 516.2 976.4 509.1 976.1 500.8 973.1 492.7 967.7 484.9 960.2 477.4 950.3 470.0 937.8 463.0 922.1 456.3 895.6 448.7 869.6 445.2 846.6 445.4 826.4 448.8 809.1 455.9 795.8 468.0 792.2 478.2 791.9 486.6 794.2 494.7 799.4 502.5 806.8 509.7 818.1 517.3 831.7 524.2 846.7 530.3 875.9 537.8 901.3 540.6 919.6 540.1Z"/>
<path class="r" stroke="#ffed33" d="M878.4 518.8 899.6 521.1 922.1 520.4 942.0 516.5 958.7 508.6 966.4 501.2 970.1 494.3 970.8 492.4 970.9 484.0 968.1 476.0 962.8 468.2 955.2 460.6 945.1 453.3 932.3 446.3 915.6 439.7 898.2 434.7 871.8 430.6 848.6 430.5 828.3 433.9 811.0 441.0 799.4 451.9 798.1 453.5 795.6 460.6 795.2 469.0 797.3 477.1 802.4 485.0 810.4 492.5 821.4 499.7 835.2 506.6 844.6 510.4 874.1 518.3 878.4 518.8Z"/>
<path class="r" stroke="#ffd533" d="M887.6 500.6 897.8 501.7 920.3 500.9 939.9 496.6 956.1 488.1 959.7 484.7 964.9 475.8 965.5 471.4 965.6 467.3 963.1 459.2 957.9 451.4 950.2 443.9 939.9 436.6 926.5 429.7 909.1 423.1 900.9 420.8 874.0 416.0 850.6 415.7 830.1 418.9 812.9 426.1 804.5 434.1 800.4 439.1 799.1 443.0 798.4 451.4 800.5 459.6 805.5 467.4 813.6 474.9 824.6 482.1 842.4 490.5 872.3 498.8 887.6 500.6Z"/>
<path class="r" stroke="#ffbd33" d="M898.7 482.2 918.4 481.3 937.8 476.8 952.8 468.1 958.9 459.1 960.3 450.6 958.1 442.5 952.9 434.7 945.1 427.2 934.6 419.9 920.6 413.0 902.4 406.6 876.2 401.5 852.5 400.8 832.0 404.0 814.9 411.3 809.6 416.3 802.8 424.7 801.7 433.8 803.7 442.0 808.7 449.8 816.8 457.3 827.9 464.5 842.5 471.3 870.4 479.3 896.0 482.3 898.7 482.2Z"/>
<path class="r" stroke="#ffa533" d="M868.4 459.7 894.2 462.8 916.5 461.7 935.5 456.8 944.2 451.8 950.3 446.6 953.0 442.5 954.8 434.0 952.9 425.8 947.9 418.0 940.0 410.4 929.1 403.2 914.8 396.4 906.9 393.5 894.4 390.2 878.5 387.1 854.5 386.0 833.9 389.1 816.9 396.5 807.1 407.6 805.6 410.9 805.0 416.2 806.9 424.4 811.9 432.2 820.0 439.7 831.2 446.9 837.5 449.9 847.3 453.6 868.4 459.7Z"/>
<path class="r" stroke="#ff8d33" d="M877.5 441.5 892.3 443.2 914.5 442.1 933.3 436.8 935.7 435.4 946.9 425.9 949.3 417.3 947.7 409.1 942.8 401.3 934.8 393.7 923.7 386.5 910.1 380.3 880.9 372.7 856.6 371.3 835.9 374.2 818.9 381.7 812.0 389.9 808.4 397.2 808.3 398.6 810.1 406.8 815.0 414.6 823.1 422.1 834.8 429.5 852.1 435.8 866.6 440.0 877.5 441.5Z"/>
<path class="r" stroke="#ff7533" d="M886.7 423.3 890.5 423.7 912.5 422.4 930.8 416.5 939.5 409.4 943.1 403.3 943.8 400.6 942.5 392.4 937.7 384.5 929.6 377.0 918.3 369.9 901.7 363.2 883.4 358.5 858.7 356.6 837.9 359.4 821.1 367.1 816.9 372.1 812.5 380.9 812.3 384.6 813.3 389.2 818.2 397.0 826.3 404.5 839.1 411.6 856.9 418.1 864.5 420.3 886.7 423.3Z"/>
<path class="r" stroke="#ff5d33" d="M861.7 400.3 888.5 404.0 910.4 402.6 928.3 396.1 932.2 392.9 937.8 384.0 937.3 375.7 932.5 367.8 924.5 360.3 912.2 353.2 894.6 346.7 886.0 344.5 860.8 341.9 839.9 344.5 823.3 352.5 821.8 354.3 817.2 363.2 816.8 371.6 821.4 379.4 830.1 386.9 843.8 393.8 861.7 400.3Z"/>
<path class="r" stroke="#ff4533" d="M870.6 382.1 886.4 384.2 908.2 382.6 925.5 375.5 931.1 367.4 931.5 359.0 927.2 351.1 918.7 343.6 905.7 336.6 888.8 330.7 863.2 327.5 842.1 330.0 825.7 338.2 822.0 345.4 821.5 353.8 825.6 361.7 834.7 369.2 848.5 376.1 860.0 380.2 870.6 382.1Z"/>
<path class="r" stroke="#f93333" d="M880.1 363.9 884.3 364.4 905.9 362.6 911.0 360.6 922.2 354.2 924.5 350.8 925.3 342.4 921.1 334.5 912.5 327.0 899.2 320.1 892.3 317.6 874.9 314.3 865.5 313.2 844.3 315.4 838.9 318.0 828.5 324.3 826.7 327.7 826.2 336.1 830.3 344.0 839.3 351.4 853.2 358.3 857.5 359.9 880.1 363.9Z"/>
<path class="r" stroke="#e13333" d="M859.9 340.4 881.9 344.2 903.3 342.1 916.6 334.4 918.3 332.1 919.1 325.8 915.1 317.9 906.4 310.4 896.3 305.2 891.6 303.6 868.1 299.1 846.7 301.1 831.4 310.7 830.8 318.3 834.9 326.3 844.0 333.7 854.4 338.9 859.9 340.4Z"/>
<path class="r" stroke="#c93333" d="M869.7 322.1 879.3 323.7 900.4 321.4 905.7 318.3 912.4 309.2 911.7 306.9 909.0 301.2 899.8 293.9 881.1 287.5 871.1 285.5 849.5 287.3 842.4 291.5 835.6 298.6 835.5 300.6 839.6 308.5 848.6 315.9 850.6 316.9 869.7 322.1Z"/>
<path class="r" stroke="#b13333" d="M857.6 297.7 876.3 302.9 897.0 299.9 902.5 293.0 900.5 284.9 890.1 277.6 874.6 272.5 852.3 273.5 843.9 282.4 845.2 290.7 857.6 297.7Z"/>
<path class="r" stroke="#993333" d="M867.8 279.4 872.3 280.6 892.4 277.1 890.9 268.6 879.3 261.0 856.7 261.6 854.3 264.1 855.6 272.3 867.8 279.4Z"/>
</g>
<g id="txt">
<path class="g" d="M29.8 71.7 C41.5 71.7 42.8 79.8 42.8 92 C42.8 104.2 41.5 112.3 29.8 112.3 C18 112.3 16.7 104.2 16.7 92 C16.7 79.8 18 71.7 29.8 71.7 Z"/>
<rect class="dt" x="43.5" y="107" width="7" height="7"/>
<path class="g" d="M84.5 71.7 C94.2 71.7 95.3 79.8 95.3 92 C95.3 104.2 94.2 112.3 84.5 112.3 C74.8 112.3 73.7 104.2 73.7 92 C73.7 79.8 74.8 71.7 84.5 71.7 Z"/>
<path class="g" d="M123.2 72.5 L103.8 72.5 L102.6 90.4 C110.6 85.1 124.5 86.3 124 99.3 C123.5 113.9 106.9 113.9 99.8 106.6"/>
<path class="g" d="M29.8 202.7 C41.5 202.7 42.8 210.8 42.8 223 C42.8 235.2 41.5 243.3 29.8 243.3 C18 243.3 16.7 235.2 16.7 223 C16.7 210.8 18 202.7 29.8 202.7 Z"/>
<rect class="dt" x="43.5" y="238" width="7" height="7"/>
<path class="g" d="M84.5 202.7 C94.2 202.7 95.3 210.8 95.3 223 C95.3 235.2 94.2 243.3 84.5 243.3 C74.8 243.3 73.7 235.2 73.7 223 C73.7 210.8 74.8 202.7 84.5 202.7 Z"/>
<path class="g" d="M117.4 243.3 L117.4 199.7 L99.3 229.3 L124.5 229.3 M110.6 243.3 L124.5 243.3"/>
<path class="g" d="M29.8 338.7 C41.5 338.7 42.8 346.8 42.8 359 C42.8 371.2 41.5 379.3 29.8 379.3 C18 379.3 16.7 371.2 16.7 359 C16.7 346.8 18 338.7 29.8 338.7 Z"/>
<rect class="dt" x="43.5" y="374" width="7" height="7"/>
<path class="g" d="M84.5 338.7 C94.2 338.7 95.3 346.8 95.3 359 C95.3 371.2 94.2 379.3 84.5 379.3 C74.8 379.3 73.7 371.2 73.7 359 C73.7 346.8 74.8 338.7 84.5 338.7 Z"/>
<path class="g" d="M100.8 344.4 C105.6 337.1 122.5 336.3 122 348.4 C121.5 357.4 114.4 357.8 108.1 357.8 M108.1 357.8 C118.2 357.8 125 361 124.5 368.7 C124 380.9 106.9 381.7 99.8 373.6"/>
<path class="g" d="M29.8 469.7 C41.5 469.7 42.8 477.8 42.8 490 C42.8 502.2 41.5 510.3 29.8 510.3 C18 510.3 16.7 502.2 16.7 490 C16.7 477.8 18 469.7 29.8 469.7 Z"/>
<rect class="dt" x="43.5" y="505" width="7" height="7"/>
<path class="g" d="M84.5 469.7 C94.2 469.7 95.3 477.8 95.3 490 C95.3 502.2 94.2 510.3 84.5 510.3 C74.8 510.3 73.7 502.2 73.7 490 C73.7 477.8 74.8 469.7 84.5 469.7 Z"/>
<path class="g" d="M100.3 480.3 C100.8 470.5 108.1 469.7 112.4 469.7 C123.2 469.7 125 485.1 117.4 492 L100.1 509.5 L124.5 509.5"/>
<path class="g" d="M29.8 608.7 C41.5 608.7 42.8 616.8 42.8 629 C42.8 641.2 41.5 649.3 29.8 649.3 C18 649.3 16.7 641.2 16.7 629 C16.7 616.8 18 608.7 29.8 608.7 Z"/>
<rect class="dt" x="43.5" y="644" width="7" height="7"/>
<path class="g" d="M84.5 608.7 C94.2 608.7 95.3 616.8 95.3 629 C95.3 641.2 94.2 649.3 84.5 649.3 C74.8 649.3 73.7 641.2 73.7 629 C73.7 616.8 74.8 608.7 84.5 608.7 Z"/>
<path class="g" d="M110.7 608.7 L110.7 649.3 M103.5 649.3 L117.3 649.3 M110.7 609.5 L103.8 615.2"/>
<path class="g" d="M111.8 741.7 C122.2 741.7 123.3 749.4 123.3 761 C123.3 772.6 122.2 780.3 111.8 780.3 C101.5 780.3 100.3 772.6 100.3 761 C100.3 749.4 101.5 741.7 111.8 741.7 Z"/>
<path class="g" d="M43.4 807.4 L43.4 846.5 M36.3 846.5 L49.9 846.5 M43.4 808.2 L36.6 813.7"/>
<path class="g" d="M74.2 807.4 C85.3 807.4 86.5 815.2 86.5 827 C86.5 838.7 85.3 846.5 74.2 846.5 C63.2 846.5 62 838.7 62 827 C62 815.2 63.2 807.4 74.2 807.4 Z"/>
<path class="k" d="M103.6 817.9 C109.5 811.1 126 810.5 126 822.7 L126.6 846.4 M126 827.8 C113.9 829.5 101.9 829.5 101.9 838.3 C101.9 848.4 121.3 847.8 126.3 838.9"/>
<path class="s" d="M146 828 C151.1 828 151.7 831.8 151.7 837.5 C151.7 843.1 151.1 846.9 146 846.9 C140.9 846.9 140.3 843.1 140.3 837.5 C140.3 831.8 140.9 828 146 828 Z"/>
<path class="g" d="M230.8 957.6 C242 957.6 243.2 965.8 243.2 978.1 C243.2 990.3 242 998.5 230.8 998.5 C219.6 998.5 218.4 990.3 218.4 978.1 C218.4 965.8 219.6 957.6 230.8 957.6 Z"/>
<path class="b" d="M275 1007 L293.2 1027.9 L311.5 1007 M293.2 1027.9 L293.2 1050.5"/>
<path class="g" d="M253 1132.7 L279.8 1132.7"/>
<path class="g" d="M293.6 1116.7 L293.6 1157.3 M286.8 1157.3 L299.7 1157.3 M293.6 1117.5 L287.1 1123.2"/>
<path class="g" d="M324.2 1116.7 C335.1 1116.7 336.3 1124.8 336.3 1137 C336.3 1149.2 335.1 1157.3 324.2 1157.3 C313.4 1157.3 312.2 1149.2 312.2 1137 C312.2 1124.8 313.4 1116.7 324.2 1116.7 Z"/>
<path class="k" d="M350.3 1128.7 C355.9 1121.9 371.5 1121.3 371.5 1133.5 L372.1 1157.2 M371.5 1138.6 C360.1 1140.2 348.6 1140.2 348.6 1149.1 C348.6 1159.2 367 1158.6 371.8 1149.7"/>
<path class="s" d="M391.1 1138.8 C396.7 1138.8 397.3 1142.6 397.3 1148.2 C397.3 1153.9 396.7 1157.7 391.1 1157.7 C385.4 1157.7 384.8 1153.9 384.8 1148.2 C384.8 1142.6 385.4 1138.8 391.1 1138.8 Z"/>
<path class="g" d="M428 1160.4 L453.6 1160.4"/>
<path class="g" d="M467.3 1143.2 L467.3 1185.2 M460.6 1185.2 L473.4 1185.2 M467.3 1144 L460.9 1149.9"/>
<path class="g" d="M493.6 1143.2 C505 1143.2 506.3 1151.6 506.3 1164.2 C506.3 1176.8 505 1185.2 493.6 1185.2 C482.2 1185.2 480.9 1176.8 480.9 1164.2 C480.9 1151.6 482.2 1143.2 493.6 1143.2 Z"/>
<path class="k" d="M521.6 1156.6 C527.1 1149.8 542.7 1149.2 542.7 1161.4 L543.3 1185.1 M542.7 1166.5 C531.3 1168.2 519.9 1168.2 519.9 1177 C519.9 1187.1 538.3 1186.5 543 1177.6"/>
<path class="s" d="M560.2 1166.7 C566.5 1166.7 567.2 1170.5 567.2 1176.2 C567.2 1181.8 566.5 1185.6 560.2 1185.6 C554 1185.6 553.3 1181.8 553.3 1176.2 C553.3 1170.5 554 1166.7 560.2 1166.7 Z"/>
<path class="g" d="M640.6 1133 L668.3 1133"/>
<path class="g" d="M691.3 1116.5 L670.5 1116.5 L669.2 1134.5 C677.8 1129.2 692.6 1130.4 692.1 1143.4 C691.5 1158.1 673.8 1158.1 666.2 1150.8"/>
<path class="k" d="M704 1127.9 C709.8 1121.1 726.1 1120.5 726.1 1132.7 L726.7 1156.4 M726.1 1137.8 C714.2 1139.5 702.3 1139.5 702.3 1148.3 C702.3 1158.4 721.5 1157.8 726.4 1148.9"/>
<path class="s" d="M746.5 1138 C751.5 1138 752.1 1141.8 752.1 1147.5 C752.1 1153.1 751.5 1156.9 746.5 1156.9 C741.5 1156.9 740.9 1153.1 740.9 1147.5 C740.9 1141.8 741.5 1138 746.5 1138 Z"/>
<path class="g" d="M866.7 1093.2 C878.8 1093.2 880.1 1101.3 880.1 1113.5 C880.1 1125.7 878.8 1133.8 866.7 1133.8 C854.6 1133.8 853.3 1125.7 853.3 1113.5 C853.3 1101.3 854.6 1093.2 866.7 1093.2 Z"/>
<path class="b" d="M918.1 1083.1 L948.6 1083.1 L917 1123.7 L949.6 1123.7"/>
<path class="g" d="M1088.8 1074.8 L1069.5 1074.8 L1068.2 1092.7 C1076.2 1087.4 1090 1088.6 1089.5 1101.6 C1089 1116.2 1072.5 1116.2 1065.5 1108.9"/>
<path class="k" d="M1104 1086 C1109.5 1079.2 1124.9 1078.6 1124.9 1090.8 L1125.5 1114.5 M1124.9 1095.9 C1113.7 1097.5 1102.4 1097.5 1102.4 1106.4 C1102.4 1116.5 1120.5 1115.9 1125.2 1107"/>
<path class="s" d="M1144.1 1096.1 C1149.4 1096.1 1150 1099.9 1150 1105.5 C1150 1111.2 1149.4 1115 1144.1 1115 C1138.9 1115 1138.3 1111.2 1138.3 1105.5 C1138.3 1099.9 1138.9 1096.1 1144.1 1096.1 Z"/>
<path class="g" d="M1290.4 1048.2 L1290.4 1088.8 M1283.5 1088.8 L1296.7 1088.8 M1290.4 1049 L1283.8 1054.7"/>
<path class="g" d="M1320.8 1048.2 C1332 1048.2 1333.3 1056.3 1333.3 1068.5 C1333.3 1080.7 1332 1088.8 1320.8 1088.8 C1309.5 1088.8 1308.2 1080.7 1308.2 1068.5 C1308.2 1056.3 1309.5 1048.2 1320.8 1048.2 Z"/>
<path class="k" d="M1351.1 1060.2 C1356.6 1053.4 1372 1052.8 1372 1065 L1372.5 1088.7 M1372 1070.1 C1360.7 1071.8 1349.5 1071.8 1349.5 1080.6 C1349.5 1090.7 1367.6 1090.1 1372.2 1081.2"/>
<path class="s" d="M1389.8 1070.3 C1397.4 1070.3 1398.3 1074.1 1398.3 1079.8 C1398.3 1085.4 1397.4 1089.2 1389.8 1089.2 C1382.1 1089.2 1381.3 1085.4 1381.3 1079.8 C1381.3 1074.1 1382.1 1070.3 1389.8 1070.3 Z"/>
</g>
</g>
</svg>
</body></html>
